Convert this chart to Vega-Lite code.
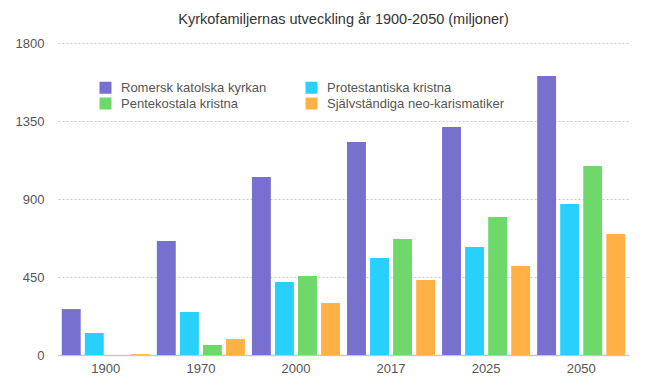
{
  "$schema": "https://vega.github.io/schema/vega-lite/v6.json",
  "width": 571,
  "height": 312,
  "autosize": {"type": "none"},
  "padding": {"left": 58, "top": 43, "right": 21, "bottom": 32},
  "background": "white",
  "title": {
    "text": "Kyrkofamiljernas utveckling år 1900-2050 (miljoner)",
    "fontSize": 14.5,
    "font": "Liberation Sans",
    "fontWeight": "normal",
    "color": "#333333",
    "anchor": "middle",
    "offset": 10
  },
  "data": {
    "values": [
      {"year": "1900", "family": "Romersk katolska kyrkan", "value": 265},
      {"year": "1900", "family": "Protestantiska kristna", "value": 127},
      {"year": "1900", "family": "Pentekostala kristna", "value": 0},
      {"year": "1900", "family": "Självständiga neo-karismatiker", "value": 5},
      {"year": "1970", "family": "Romersk katolska kyrkan", "value": 658},
      {"year": "1970", "family": "Protestantiska kristna", "value": 248},
      {"year": "1970", "family": "Pentekostala kristna", "value": 58},
      {"year": "1970", "family": "Självständiga neo-karismatiker", "value": 92},
      {"year": "2000", "family": "Romersk katolska kyrkan", "value": 1027},
      {"year": "2000", "family": "Protestantiska kristna", "value": 421},
      {"year": "2000", "family": "Pentekostala kristna", "value": 456},
      {"year": "2000", "family": "Självständiga neo-karismatiker", "value": 300},
      {"year": "2017", "family": "Romersk katolska kyrkan", "value": 1229},
      {"year": "2017", "family": "Protestantiska kristna", "value": 560},
      {"year": "2017", "family": "Pentekostala kristna", "value": 669},
      {"year": "2017", "family": "Självständiga neo-karismatiker", "value": 433},
      {"year": "2025", "family": "Romersk katolska kyrkan", "value": 1315},
      {"year": "2025", "family": "Protestantiska kristna", "value": 623},
      {"year": "2025", "family": "Pentekostala kristna", "value": 796},
      {"year": "2025", "family": "Självständiga neo-karismatiker", "value": 513},
      {"year": "2050", "family": "Romersk katolska kyrkan", "value": 1610},
      {"year": "2050", "family": "Protestantiska kristna", "value": 871},
      {"year": "2050", "family": "Pentekostala kristna", "value": 1090},
      {"year": "2050", "family": "Självständiga neo-karismatiker", "value": 698}
    ]
  },
  "mark": {"type": "bar"},
  "encoding": {
    "x": {
      "field": "year",
      "type": "nominal",
      "title": null,
      "sort": null,
      "scale": {"paddingInner": 0.074, "paddingOuter": 0.04},
      "axis": {
        "labelAngle": 0,
        "labelFont": "Liberation Sans",
        "labelFontSize": 13,
        "labelColor": "#555555",
        "labelPadding": 7,
        "ticks": false,
        "domainColor": "#c8c8c8",
        "domainWidth": 1.5,
        "grid": false
      }
    },
    "xOffset": {
      "field": "family",
      "type": "nominal",
      "sort": ["Romersk katolska kyrkan", "Protestantiska kristna", "Pentekostala kristna", "Självständiga neo-karismatiker"],
      "scale": {"paddingInner": 0.18, "paddingOuter": 0}
    },
    "y": {
      "field": "value",
      "type": "quantitative",
      "title": null,
      "scale": {"domain": [0, 1800], "nice": false},
      "axis": {
        "values": [0, 450, 900, 1350, 1800],
        "format": "d",
        "labelFont": "Liberation Sans",
        "labelFontSize": 13,
        "labelColor": "#555555",
        "labelPadding": 14,
        "ticks": false,
        "domain": false,
        "grid": true,
        "gridColor": "#c8c8c8",
        "gridDash": [2, 2],
        "gridWidth": 1
      }
    },
    "color": {
      "field": "family",
      "type": "nominal",
      "sort": ["Romersk katolska kyrkan", "Protestantiska kristna", "Pentekostala kristna", "Självständiga neo-karismatiker"],
      "scale": {
        "domain": ["Romersk katolska kyrkan", "Protestantiska kristna", "Pentekostala kristna", "Självständiga neo-karismatiker"],
        "range": ["#7870cf", "#28d0fe", "#6ed96a", "#ffb146"]
      },
      "legend": {
        "title": null,
        "orient": "none",
        "direction": "horizontal",
        "legendX": 41,
        "legendY": 38,
        "columns": 2,
        "columnPadding": 38,
        "rowPadding": 2,
        "symbolType": "square",
        "symbolSize": 144,
        "symbolStrokeWidth": 0,
        "symbolOpacity": 1,
        "labelFont": "Liberation Sans",
        "labelFontSize": 13,
        "labelColor": "#555555",
        "labelOffset": 9,
        "labelLimit": 300
      }
    }
  },
  "config": {
    "view": {"stroke": null}
  }
}
